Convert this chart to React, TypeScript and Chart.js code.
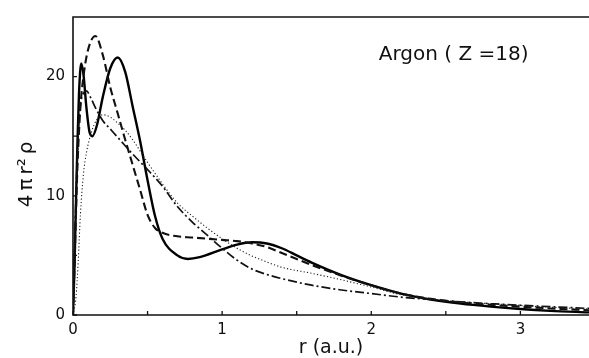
import React, { useEffect, useRef } from "react";
import { Chart, registerables } from "chart.js";

Chart.register(...registerables);

// r (a.u.) sample positions and 4πr²ρ values
const rSolid = [0, 0.01, 0.02, 0.03, 0.04, 0.055, 0.07, 0.09, 0.11, 0.13, 0.16, 0.2, 0.25, 0.3, 0.35, 0.4, 0.45, 0.5, 0.55, 0.6, 0.7, 0.77, 0.85, 1.0, 1.1, 1.2, 1.3, 1.4, 1.5, 1.6, 1.8, 2.0, 2.2, 2.4, 2.6, 2.8, 3.0, 3.2, 3.46];
const solid = [0, 4, 9.5, 14.5, 18.5, 21.1, 20.2, 17.4, 15.4, 15.0, 15.9, 18.3, 20.7, 21.6, 20.4, 17.5, 14.6, 11.3, 8.3, 6.4, 5.0, 4.7, 4.85, 5.5, 5.9, 6.1, 6.0, 5.6, 5.0, 4.4, 3.35, 2.5, 1.8, 1.3, 0.95, 0.7, 0.5, 0.35, 0.22];

const rDashed = [0, 0.01, 0.02, 0.03, 0.05, 0.07, 0.1, 0.15, 0.2, 0.25, 0.3, 0.35, 0.4, 0.45, 0.5, 0.55, 0.6, 0.7, 0.8, 0.9, 1.0, 1.1, 1.2, 1.3, 1.4, 1.5, 1.6, 1.8, 2.0, 2.2, 2.4, 2.6, 2.8, 3.0, 3.2, 3.46];
const dashed = [0, 4, 8.5, 12.5, 17.5, 20.0, 22.2, 23.4, 21.8, 19.1, 16.9, 14.7, 12.6, 10.5, 8.4, 7.3, 6.9, 6.6, 6.5, 6.4, 6.3, 6.2, 6.0, 5.7, 5.2, 4.7, 4.2, 3.3, 2.5, 1.8, 1.35, 1.05, 0.85, 0.7, 0.55, 0.4];

const rDashDot = [0, 0.01, 0.02, 0.035, 0.05, 0.07, 0.09, 0.12, 0.15, 0.2, 0.25, 0.3, 0.35, 0.4, 0.5, 0.6, 0.7, 0.8, 0.9, 1.0, 1.1, 1.2, 1.3, 1.4, 1.6, 1.8, 2.0, 2.2, 2.4, 2.6, 2.8, 3.0, 3.2, 3.46];
const dashDot = [0, 5, 10, 15, 17.6, 18.6, 18.8, 18.2, 17.4, 16.3, 15.6, 14.9, 14.2, 13.5, 12.2, 10.8, 9.1, 7.8, 6.7, 5.6, 4.6, 3.85, 3.4, 3.05, 2.5, 2.1, 1.8, 1.5, 1.3, 1.1, 0.95, 0.82, 0.7, 0.55];

const rDotted = [0, 0.02, 0.035, 0.05, 0.07, 0.09, 0.12, 0.16, 0.2, 0.25, 0.3, 0.35, 0.4, 0.5, 0.6, 0.7, 0.8, 0.9, 1.0, 1.1, 1.2, 1.3, 1.4, 1.6, 1.8, 2.0, 2.2, 2.4, 2.6, 2.8, 3.0, 3.2, 3.46];
const dotted = [0, 1.5, 4.5, 8.5, 11.8, 13.6, 15.2, 16.4, 16.8, 16.6, 16.1, 15.5, 14.7, 12.8, 11.0, 9.4, 8.3, 7.3, 6.4, 5.6, 4.95, 4.45, 4.0, 3.5, 2.95, 2.35, 1.7, 1.35, 1.1, 0.95, 0.8, 0.65, 0.5];

const xTickValues = [0, 0.5, 1, 1.5, 2, 2.5, 3];
const xTickLabels = ["0", "1", "2", "3"];
const yTickValues = [0, 5, 10, 15, 20];
const yTickLabels = ["0", "10", "20"];

const xMin = 0;
const xMax = 3.46;
const yMin = 0;
const yMax = 25;

const annotation = "Argon ( Z =18)";
const xTitle = "r (a.u.)";
const yTitle = "4\u2009π\u2009r²\u2009ρ";

const FONT = "'DejaVu Sans', sans-serif";

export default function App() {
  const ref = useRef<HTMLCanvasElement>(null);

  useEffect(() => {
    document.body.style.margin = "0";
    const canvas = ref.current;
    if (!canvas) return;

    const pts = (xs: number[], ys: number[]) => xs.map((x, i) => ({ x, y: ys[i] }));

    const frame = {
      id: "frameAndTicks",
      afterDraw(chart: any) {
        const { ctx, chartArea: a, scales } = chart;
        const xs = scales.x;
        const ys = scales.y;
        ctx.save();
        ctx.strokeStyle = "#111";
        ctx.lineWidth = 1.6;
        ctx.setLineDash([]);
        ctx.beginPath();
        ctx.moveTo(a.right, a.top);
        ctx.lineTo(a.left, a.top);
        ctx.lineTo(a.left, a.bottom);
        ctx.lineTo(a.right, a.bottom);
        ctx.stroke();
        ctx.lineWidth = 1.3;
        ctx.beginPath();
        xTickValues.forEach((v) => {
          const p = xs.getPixelForValue(v);
          ctx.moveTo(p, a.bottom);
          ctx.lineTo(p, a.bottom - 4);
        });
        yTickValues.forEach((v) => {
          const p = ys.getPixelForValue(v);
          ctx.moveTo(a.left, p);
          ctx.lineTo(a.left + 4, p);
        });
        ctx.stroke();
        ctx.fillStyle = "#111";
        ctx.font = `20px ${FONT}`;
        ctx.textAlign = "left";
        ctx.textBaseline = "middle";
        ctx.fillText(annotation, xs.getPixelForValue(2.05), ys.getPixelForValue(21.8));
        // rotated y title
        ctx.save();
        ctx.translate(27, ys.getPixelForValue(11.8));
        ctx.rotate(-Math.PI / 2);
        ctx.textAlign = "center";
        ctx.font = `20px ${FONT}`;
        ctx.fillText(yTitle, 0, 0);
        ctx.restore();
        ctx.restore();
      },
    };

    const chart = new Chart(canvas, {
      type: "line",
      data: {
        datasets: [
          {
            data: pts(rDotted, dotted),
            borderColor: "#222",
            borderWidth: 1.1,
            borderDash: [1.2, 2.2],
            pointRadius: 0,
            fill: false,
            cubicInterpolationMode: "monotone",
          },
          {
            data: pts(rDashDot, dashDot),
            borderColor: "#111",
            borderWidth: 1.7,
            borderDash: [9, 3, 2, 3],
            pointRadius: 0,
            fill: false,
            cubicInterpolationMode: "monotone",
          },
          {
            data: pts(rDashed, dashed),
            borderColor: "#111",
            borderWidth: 2.1,
            borderDash: [8, 4],
            pointRadius: 0,
            fill: false,
            cubicInterpolationMode: "monotone",
          },
          {
            data: pts(rSolid, solid),
            borderColor: "#000",
            borderWidth: 2.4,
            pointRadius: 0,
            fill: false,
            cubicInterpolationMode: "monotone",
          },
        ],
      },
      options: {
        animation: false,
        responsive: false,
        layout: { padding: { top: 11, right: 0, left: 0, bottom: 0 } },
        plugins: { legend: { display: false }, tooltip: { enabled: false } },
        scales: {
          x: {
            type: "linear",
            min: xMin,
            max: xMax,
            afterBuildTicks: (s: any) => {
              s.ticks = xTickValues.map((value) => ({ value }));
            },
            afterFit: (s: any) => {
              s.height = 43;
            },
            grid: { display: false, drawTicks: false },
            border: { display: false },
            ticks: {
              color: "#111",
              padding: 6,
              maxRotation: 0,
              autoSkip: false,
              font: { family: FONT, size: 15 },
              callback: (v: any) => {
                const s = String(v);
                return xTickLabels.includes(s) ? s : "";
              },
            },
            title: {
              display: true,
              text: xTitle,
              color: "#111",
              font: { family: FONT, size: 19, lineHeight: 1 },
              padding: { top: 0, bottom: 0 },
            },
          },
          y: {
            type: "linear",
            min: yMin,
            max: yMax,
            afterBuildTicks: (s: any) => {
              s.ticks = yTickValues.map((value) => ({ value }));
            },
            afterFit: (s: any) => {
              s.width = 73;
            },
            grid: { display: false, drawTicks: false },
            border: { display: false },
            ticks: {
              color: "#111",
              padding: 8,
              autoSkip: false,
              font: { family: FONT, size: 15 },
              callback: (v: any) => {
                const s = String(v);
                return yTickLabels.includes(s) ? s : "";
              },
            },
            title: { display: false },
          },
        },
      },
      plugins: [frame],
    } as any);

    return () => chart.destroy();
  }, []);

  return (
    <div style={{ width: 589, height: 358 }}>
      <canvas ref={ref} width={589} height={358} style={{ display: "block" }} />
    </div>
  );
}
